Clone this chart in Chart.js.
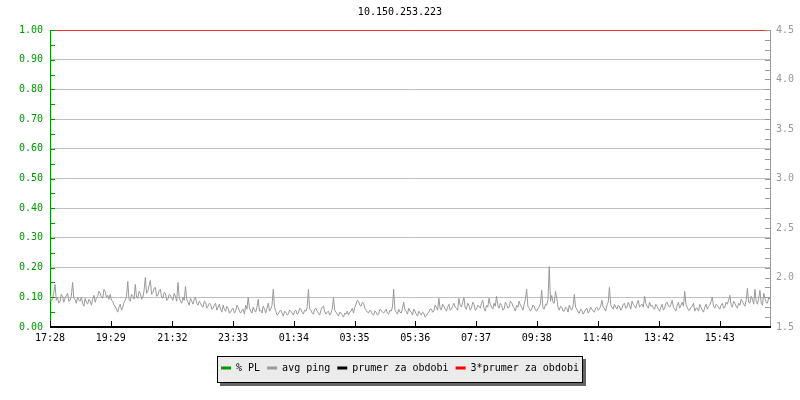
<!DOCTYPE html>
<html>
<head>
<meta charset="utf-8">
<script src="https://cdn.jsdelivr.net/npm/chart.js@4/dist/chart.umd.min.js"></script>
<style>
  html, body { margin: 0; padding: 0; background: #fff; }
  #wrap { width: 800px; height: 400px; }
</style>
</head>
<body>
<div id="wrap"><canvas id="pingChart" width="800" height="400"></canvas></div>
<script>
// tick labels of the time axis and their offset in minutes from the start
const timeLabels = ["17:28", "19:29", "21:32", "23:33", "01:34", "03:35", "05:36", "07:37", "09:38", "11:40", "13:42", "15:43"];
const timeTickMinutes = [0, 121, 244, 365, 486, 607, 728, 849, 970, 1092, 1214, 1335];
const periodEdges = [0, 1435];

// avg ping (ms, right axis), one sample every 2.5 minutes, one row = 2 hours
const pingMs = [
  1.82,1.76, 1.78,1.85, 1.93,1.77, 1.80,1.74, 1.76,1.83, 1.81,1.75, 1.79,1.82, 1.84,1.76, 1.77,1.81, 1.95,1.79, 1.78,1.74, 1.80,1.77, 1.76,1.80, 1.74,1.71, 1.79,1.75, 1.73,1.78, 1.76,1.72, 1.78,1.82, 1.75,1.79, 1.81,1.86, 1.84,1.80, 1.79,1.88, 1.86,1.80, 1.82,1.78,
  1.83,1.77, 1.76,1.72, 1.71,1.68, 1.65,1.70, 1.73,1.67, 1.70,1.75, 1.77,1.81, 1.96,1.78, 1.76,1.83, 1.81,1.78, 1.93,1.80, 1.79,1.86, 1.84,1.78, 1.80,1.87, 2.00,1.84, 1.86,1.92, 1.97,1.83, 1.85,1.89, 1.90,1.81, 1.82,1.87, 1.88,1.80, 1.79,1.85, 1.84,1.77, 1.78,1.83,
  1.82,1.79, 1.77,1.84, 1.81,1.76, 1.95,1.80, 1.76,1.74, 1.80,1.77, 1.91,1.78, 1.75,1.72, 1.79,1.76, 1.73,1.78, 1.80,1.74, 1.72,1.76, 1.74,1.71, 1.70,1.76, 1.75,1.69, 1.71,1.74, 1.73,1.68, 1.69,1.72, 1.74,1.67, 1.70,1.73, 1.68,1.65, 1.72,1.68, 1.66,1.71, 1.69,1.64,
  1.65,1.68, 1.69,1.64, 1.66,1.72, 1.70,1.66, 1.64,1.67, 1.68,1.63, 1.72,1.68, 1.80,1.69, 1.66,1.64, 1.70,1.67, 1.65,1.70, 1.78,1.66, 1.67,1.64, 1.71,1.68, 1.64,1.69, 1.74,1.66, 1.68,1.72, 1.88,1.70, 1.66,1.62, 1.63,1.66, 1.67,1.64, 1.61,1.66, 1.65,1.62, 1.63,1.67,
  1.66,1.64, 1.62,1.66, 1.67,1.63, 1.64,1.69, 1.68,1.65, 1.63,1.67, 1.66,1.70, 1.88,1.68, 1.67,1.64, 1.63,1.68, 1.69,1.66, 1.64,1.62, 1.67,1.70, 1.71,1.66, 1.63,1.65, 1.66,1.62, 1.64,1.68, 1.80,1.67, 1.65,1.63, 1.61,1.65, 1.64,1.62, 1.60,1.64, 1.63,1.66, 1.62,1.65,
  1.66,1.69, 1.64,1.70, 1.73,1.77, 1.76,1.72, 1.71,1.75, 1.74,1.69, 1.67,1.65, 1.64,1.67, 1.66,1.63, 1.62,1.66, 1.65,1.62, 1.63,1.68, 1.67,1.65, 1.64,1.66, 1.68,1.64, 1.63,1.67, 1.66,1.70, 1.88,1.67, 1.65,1.63, 1.68,1.65, 1.64,1.69, 1.75,1.67, 1.66,1.63, 1.69,1.66,
  1.65,1.62, 1.68,1.66, 1.63,1.61, 1.66,1.64, 1.62,1.65, 1.64,1.60, 1.61,1.64, 1.65,1.68, 1.68,1.65, 1.66,1.72, 1.70,1.67, 1.79,1.69, 1.67,1.73, 1.71,1.68, 1.66,1.70, 1.73,1.67, 1.68,1.71, 1.74,1.70, 1.69,1.67, 1.79,1.72, 1.70,1.75, 1.80,1.69, 1.68,1.74, 1.72,1.67,
  1.69,1.75, 1.73,1.67, 1.68,1.72, 1.71,1.69, 1.74,1.77, 1.69,1.66, 1.72,1.70, 1.79,1.73, 1.70,1.68, 1.74,1.71, 1.81,1.72, 1.69,1.74, 1.72,1.67, 1.68,1.75, 1.73,1.69, 1.70,1.76, 1.75,1.71, 1.69,1.66, 1.72,1.70, 1.76,1.72, 1.70,1.67, 1.73,1.78, 1.88,1.71, 1.69,1.66,
  1.68,1.72, 1.71,1.67, 1.66,1.69, 1.70,1.74, 1.87,1.69, 1.68,1.73, 1.72,1.78, 2.11,1.76, 1.82,1.75, 1.74,1.86, 1.79,1.70, 1.67,1.71, 1.70,1.66, 1.66,1.70, 1.69,1.65, 1.72,1.68, 1.67,1.71, 1.83,1.70, 1.68,1.65, 1.64,1.68, 1.67,1.63, 1.65,1.68, 1.69,1.64, 1.66,1.70,
  1.68,1.66, 1.65,1.69, 1.70,1.67, 1.68,1.71, 1.77,1.70, 1.69,1.66, 1.72,1.75, 1.90,1.72, 1.70,1.68, 1.73,1.70, 1.68,1.72, 1.71,1.67, 1.69,1.73, 1.74,1.69, 1.70,1.75, 1.72,1.68, 1.76,1.73, 1.71,1.69, 1.74,1.77, 1.70,1.72, 1.73,1.70, 1.81,1.74, 1.71,1.69, 1.75,1.71,
  1.72,1.69, 1.68,1.73, 1.71,1.68, 1.66,1.70, 1.73,1.67, 1.69,1.74, 1.75,1.71, 1.70,1.73, 1.77,1.70, 1.68,1.66, 1.72,1.75, 1.69,1.72, 1.75,1.71, 1.86,1.73, 1.70,1.67, 1.67,1.70, 1.71,1.74, 1.66,1.69, 1.69,1.66, 1.73,1.70, 1.67,1.65, 1.70,1.73, 1.68,1.71, 1.72,1.76,
  1.80,1.71, 1.69,1.73, 1.72,1.70, 1.68,1.72, 1.74,1.69, 1.70,1.75, 1.73,1.77, 1.82,1.72, 1.70,1.76, 1.74,1.71, 1.69,1.74, 1.72,1.78, 1.76,1.73, 1.71,1.77, 1.89,1.75, 1.74,1.81, 1.78,1.73, 1.88,1.76, 1.73,1.79, 1.87,1.74, 1.72,1.84, 1.79,1.75, 1.74,1.80, 1.78,1.75
];
const sampleMinutes = pingMs.map((_, i) => i * 2.5);

// packet loss and period averages (left axis)
const plPercent = [0, 0];
const avgPeriod = [0, 0];
const tripleAvgPeriod = [1, 1];

const GREEN = "#009900";
const GREY = "#999999";
const MONO = "'DejaVu Sans Mono', 'Liberation Mono', monospace";

const toPoints = (xs, ys) => ys.map((v, i) => ({ x: xs[i], y: v }));

// axis ticks drawn inside the plot, thick base line, legend frame
const jpStyle = {
    id: "jpStyle",
    beforeDraw(chart) {
        const lg = chart.legend;
        if (!lg || !lg.legendHitBoxes.length) return;
        const hb = lg.legendHitBoxes;
        const first = hb[0], last = hb[hb.length - 1];
        const x0 = Math.round(first.left) - 4;
        const x1 = Math.round(last.left + last.width) + 4;
        const y0 = Math.round(lg.top), y1 = Math.round(lg.bottom);
        const c = chart.ctx;
        c.save();
        c.fillStyle = "#666666";
        c.fillRect(x0 + 3, y0 + 3, x1 - x0, y1 - y0);
        c.fillStyle = "#ebebeb";
        c.fillRect(x0, y0, x1 - x0, y1 - y0);
        c.strokeStyle = "#000";
        c.lineWidth = 1;
        c.strokeRect(x0 + 0.5, y0 + 0.5, x1 - x0 - 1, y1 - y0 - 1);
        c.restore();
    },
    afterDatasetsDraw(chart) {
        const c = chart.ctx;
        const a = chart.chartArea;
        const yl = chart.scales.y;
        const yr = chart.scales.y1;
        const x = chart.scales.x;
        c.save();
        c.fillStyle = GREEN;
        for (let k = 0; k <= 20; k++) {
            c.fillRect(a.left, Math.round(yl.getPixelForValue(k * 0.05)), 5, 1);
        }
        c.fillStyle = GREY;
        for (let k = 0; k <= 30; k++) {
            c.fillRect(a.right - 5, Math.round(yr.getPixelForValue(1.5 + k * 0.1)), 5, 1);
        }
        c.fillStyle = "#000";
        timeTickMinutes.forEach(m => {
            c.fillRect(Math.round(x.getPixelForValue(m)), a.bottom - 6, 1, 6);
        });
        c.fillRect(a.left, a.bottom - 1, a.right - a.left + 1, 2);
        c.restore();
    }
};

const ctx = document.getElementById("pingChart").getContext("2d");

new Chart(ctx, {
    type: "line",
    data: {
        datasets: [
            {
                label: "% PL",
                data: toPoints(periodEdges, plPercent),
                yAxisID: "y",
                borderColor: GREEN,
                borderWidth: 1
            },
            {
                label: "avg ping",
                data: toPoints(sampleMinutes, pingMs),
                yAxisID: "y1",
                borderColor: GREY,
                borderWidth: 1
            },
            {
                label: "prumer za obdobi",
                data: toPoints(periodEdges, avgPeriod),
                yAxisID: "y",
                borderColor: "#000000",
                borderWidth: 1
            },
            {
                label: "3*prumer za obdobi",
                data: toPoints(periodEdges, tripleAvgPeriod),
                yAxisID: "y",
                borderColor: "#ff0000",
                borderWidth: 1.5
            }
        ]
    },
    options: {
        responsive: false,
        animation: false,
        layout: { padding: { left: 0, right: 0, top: 0, bottom: 17 } },
        elements: {
            point: { radius: 0, hoverRadius: 0 },
            line: { tension: 0 }
        },
        plugins: {
            title: {
                display: true,
                text: "10.150.253.223",
                color: "#000",
                font: { family: MONO, size: 10, weight: "normal" },
                padding: { top: 6, bottom: 12 }
            },
            legend: {
                position: "bottom",
                onClick: null,
                labels: {
                    color: "#000",
                    font: { family: MONO, size: 10 },
                    boxWidth: 10,
                    boxHeight: 3,
                    padding: 7,
                    generateLabels(chart) {
                        return chart.data.datasets.map((ds, i) => ({
                            text: ds.label,
                            fillStyle: ds.borderColor,
                            strokeStyle: ds.borderColor,
                            lineWidth: 0,
                            hidden: false,
                            datasetIndex: i
                        }));
                    }
                }
            },
            tooltip: { enabled: false }
        },
        scales: {
            x: {
                type: "linear",
                min: periodEdges[0],
                max: periodEdges[1],
                afterBuildTicks(scale) {
                    scale.ticks = timeTickMinutes.map(v => ({ value: v }));
                },
                afterFit(scale) { scale.height = 29; },
                grid: { display: false, drawTicks: false },
                border: { display: false },
                ticks: {
                    autoSkip: false,
                    maxRotation: 0,
                    padding: 5,
                    color: "#000",
                    font: { family: MONO, size: 10 },
                    callback: (v) => timeLabels[timeTickMinutes.indexOf(v)] || ""
                }
            },
            y: {
                position: "left",
                min: 0,
                max: 1,
                afterFit(scale) { scale.width = 50; },
                grid: { color: "#c0c0c0", drawTicks: false },
                border: { color: GREEN, width: 1 },
                ticks: {
                    stepSize: 0.1,
                    padding: 7,
                    color: GREEN,
                    font: { family: MONO, size: 10 },
                    callback: (v) => Number(v).toFixed(2)
                }
            },
            y1: {
                position: "right",
                min: 1.5,
                max: 4.5,
                afterFit(scale) { scale.width = 30; },
                grid: { drawOnChartArea: false, drawTicks: false },
                border: { color: GREY, width: 1 },
                ticks: {
                    stepSize: 0.5,
                    padding: 6,
                    color: GREY,
                    font: { family: MONO, size: 10 },
                    callback: (v) => Number(v).toFixed(1)
                }
            }
        }
    },
    plugins: [jpStyle]
});
</script>
</body>
</html>
